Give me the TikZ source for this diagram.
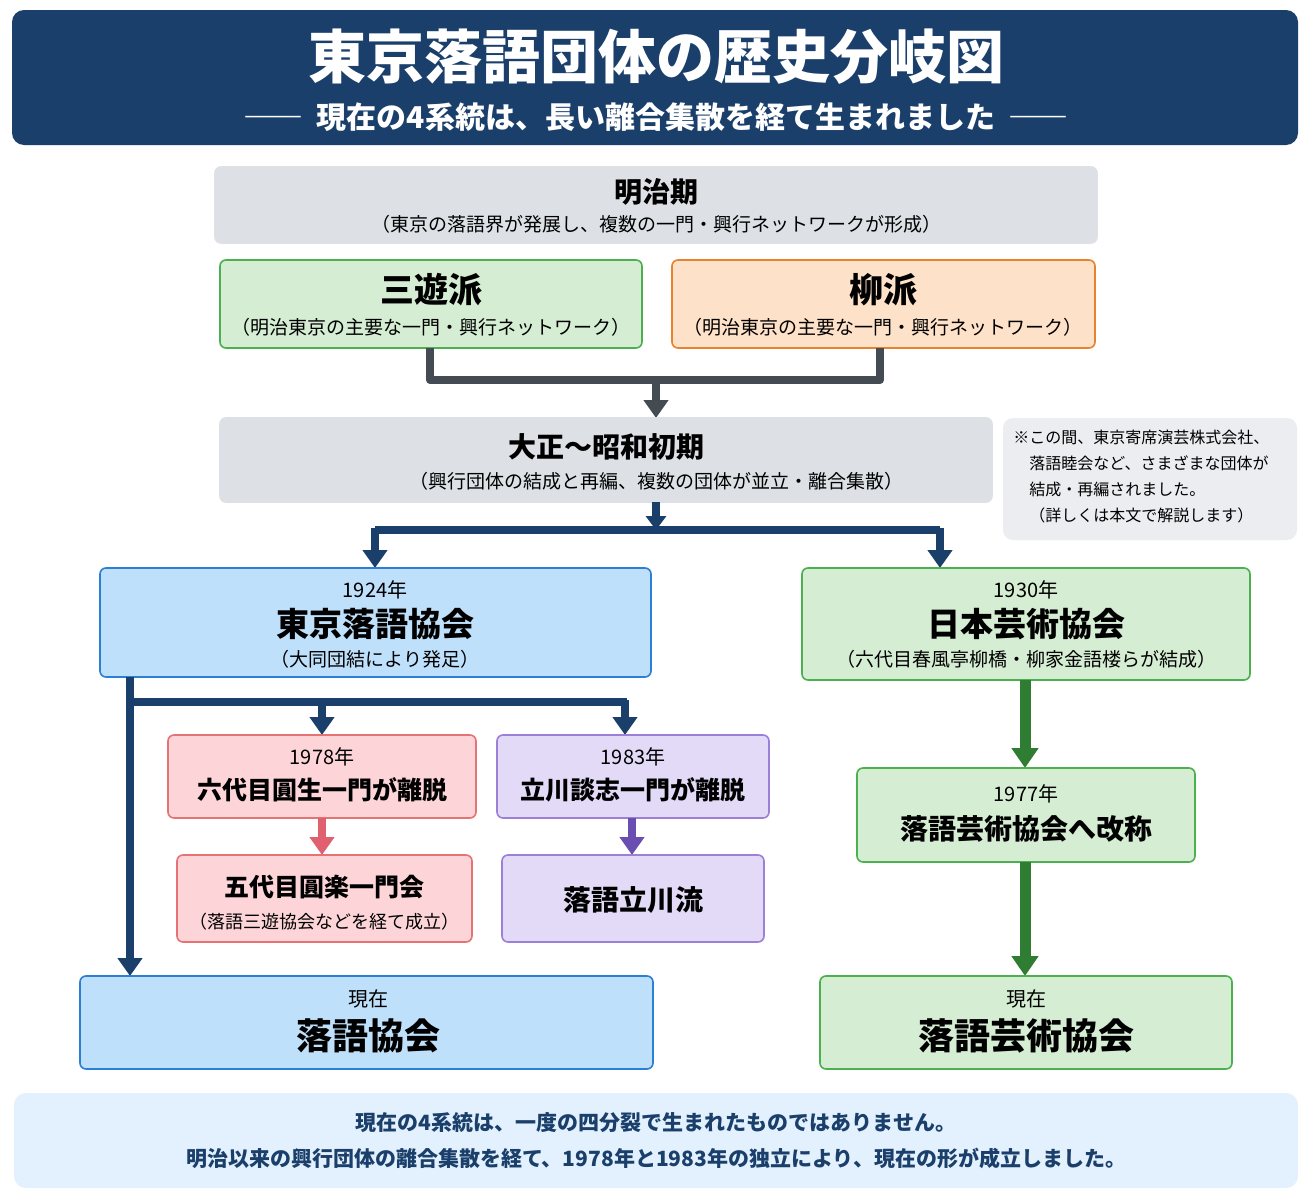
\documentclass[tikz,border=0pt]{standalone}
\usepackage{fontspec}
\setmainfont{Noto Sans CJK JP}
\usetikzlibrary{arrows.meta}
\definecolor{navy}{HTML}{1B3F6B}
\definecolor{gbox}{HTML}{DDE1E6}
\definecolor{grn}{HTML}{D5EDD3}\definecolor{grnb}{HTML}{4CAF50}
\definecolor{org}{HTML}{FDE1C8}\definecolor{orgb}{HTML}{E8822C}
\definecolor{blu}{HTML}{BFE0FB}\definecolor{blub}{HTML}{2B7FD4}
\definecolor{pnk}{HTML}{FDD5D8}\definecolor{pnkb}{HTML}{E57373}
\definecolor{pur}{HTML}{E3DAF7}\definecolor{purb}{HTML}{9C7FD6}
\definecolor{purd}{HTML}{6A4FB0}\definecolor{pnkd}{HTML}{E06070}
\definecolor{dgr}{HTML}{2E7D32}\definecolor{darkg}{HTML}{454B52}
\begin{document}
\begin{tikzpicture}[x=0.5pt,y=-0.5pt,
 box/.style={rounded corners=3pt,line width=0.8pt},
 t/.style={align=center,inner sep=0pt},
 arr/.style={line width=4pt,-{Triangle[length=9pt,width=12pt]}},
 ln/.style={line width=4pt}]
\useasboundingbox (0,0) rectangle (1312,1199);
\fill[white] (0,0) rectangle (1312,1199);
% title
\fill[navy,rounded corners=6pt] (12,10) rectangle (1298,145);
\node[t,white,font=\bfseries\fontsize{29}{32}\selectfont] (title) at (656,57) {東京落語団体の歴史分岐図};
\node[t,white,font=\bfseries\fontsize{15}{18}\selectfont] (sub) at (656,117) {―― \ 現在の4系統は、長い離合集散を経て生まれました \ ――};
% meiji
\filldraw[box,fill=gbox,draw=gbox] (215,167) rectangle (1097,243);
\node[t,font=\bfseries\fontsize{14}{16}\selectfont] (meiji) at (656,192) {明治期};
\node[t,font=\fontsize{9.5}{11}\selectfont] at (656,224) {（東京の落語界が発展し、複数の一門・興行ネットワークが形成）};
% sanyu / yanagi
\filldraw[box,fill=grn,draw=grnb] (220,260) rectangle (642,348);
\node[t,font=\bfseries\fontsize{17}{19}\selectfont] (sanyu) at (431,290) {三遊派};
\node[t,font=\fontsize{9.5}{11}\selectfont] at (431,327) {（明治東京の主要な一門・興行ネットワーク）};
\filldraw[box,fill=org,draw=orgb] (672,260) rectangle (1095,348);
\node[t,font=\bfseries\fontsize{17}{19}\selectfont] (yanagi) at (883,290) {柳派};
\node[t,font=\fontsize{9.5}{11}\selectfont] at (883,327) {（明治東京の主要な一門・興行ネットワーク）};
\coordinate (ja) at (430,348); \coordinate (jb) at (880,348);
\draw[ln,darkg,line join=round] (ja) -- (430,380) -- (880,380) -- (jb);
\draw[arr,darkg] (656,380) -- (656,418);
% taisho
\filldraw[box,fill=gbox,draw=gbox] (220,418) rectangle (992,502);
\node[t,font=\bfseries\fontsize{14}{16}\selectfont] (taisho) at (606,447) {大正～昭和初期};
\node[t,font=\fontsize{9.5}{11}\selectfont] at (656,481) {（興行団体の結成と再編、複数の団体が並立・離合集散）};
\fill[gbox!60,rounded corners=5pt] (1003,418) rectangle (1297,540);
\node[t,align=left,anchor=north west,font=\fontsize{8}{13}\selectfont] (note) at (1013,430) {※この間、東京寄席演芸株式会社、\\\quad 落語睦会など、さまざまな団体が\\\quad 結成・再編されました。\\\quad（詳しくは本文で解説します）};
\draw[navy,line width=4pt,-{Triangle[length=7pt,width=10pt]}] (656,502) -- (656,530);
\draw[ln,navy] (375,530) -- (940,530);
\draw[arr,navy] (375,528) -- (375,568);
\draw[arr,navy] (940,528) -- (940,568);
% kyokai 1924
\filldraw[box,fill=blu,draw=blub] (100,568) rectangle (651,677);
\node[t,font=\fontsize{10}{12}\selectfont] at (375,590) {1924年};
\node[t,font=\bfseries\fontsize{16.5}{19}\selectfont] (tk) at (375,624) {東京落語協会};
\node[t,font=\fontsize{9.5}{11}\selectfont] at (375,659) {（大同団結により発足）};
\filldraw[box,fill=grn,draw=grnb] (802,568) rectangle (1250,680);
\node[t,font=\fontsize{10}{12}\selectfont] at (1026,590) {1930年};
\node[t,font=\bfseries\fontsize{16.5}{19}\selectfont] (ng) at (1026,624) {日本芸術協会};
\node[t,font=\fontsize{9.5}{11}\selectfont] at (1026,659) {（六代目春風亭柳橋・柳家金語楼らが結成）};
% left branches
\draw[arr,navy] (130,677) -- (130,976);
\draw[ln,navy] (128,702) -- (627,702);
\draw[arr,navy] (322,700) -- (322,735);
\draw[arr,navy] (625,700) -- (625,735);
\filldraw[box,fill=pnk,draw=pnkb] (168,735) rectangle (476,818);
\node[t,font=\fontsize{10}{12}\selectfont] at (322,757) {1978年};
\node[t,font=\bfseries\fontsize{12.5}{15}\selectfont] (en) at (322,790) {六代目圓生一門が離脱};
\filldraw[box,fill=pur,draw=purb] (497,735) rectangle (769,818);
\node[t,font=\fontsize{10}{12}\selectfont] at (633,757) {1983年};
\node[t,font=\bfseries\fontsize{12.5}{15}\selectfont] (ta) at (633,790) {立川談志一門が離脱};
\draw[arr,pnkd] (322,818) -- (322,855);
\draw[arr,purd] (632,818) -- (632,855);
\filldraw[box,fill=pnk,draw=pnkb] (177,855) rectangle (472,942);
\node[t,font=\bfseries\fontsize{12.5}{15}\selectfont] (gd) at (324,887) {五代目圓楽一門会};
\node[t,font=\fontsize{9}{11}\selectfont] at (324,922) {（落語三遊協会などを経て成立）};
\filldraw[box,fill=pur,draw=purb] (502,855) rectangle (764,942);
\node[t,font=\bfseries\fontsize{14}{16}\selectfont] (tr) at (633,900) {落語立川流};
% right
\draw[dgr,line width=5.5pt,-{Triangle[length=10pt,width=13pt]}] (1025,680) -- (1025,768);
\filldraw[box,fill=grn,draw=grnb] (857,768) rectangle (1195,862);
\node[t,font=\fontsize{10}{12}\selectfont] at (1026,794) {1977年};
\node[t,font=\bfseries\fontsize{14}{16}\selectfont] (rg) at (1026,829) {落語芸術協会へ改称};
\draw[dgr,line width=5.5pt,-{Triangle[length=10pt,width=13pt]}] (1025,862) -- (1025,976);
% present
\filldraw[box,fill=blu,draw=blub] (80,976) rectangle (653,1069);
\node[t,font=\fontsize{10}{12}\selectfont] at (368,999) {現在};
\node[t,font=\bfseries\fontsize{18}{21}\selectfont] (rk) at (368,1036) {落語協会};
\filldraw[box,fill=grn,draw=grnb] (820,976) rectangle (1232,1069);
\node[t,font=\fontsize{10}{12}\selectfont] at (1026,999) {現在};
\node[t,font=\bfseries\fontsize{18}{21}\selectfont] (rgk) at (1026,1036) {落語芸術協会};
% bottom
\fill[blu!45,rounded corners=6pt] (14,1093) rectangle (1298,1188);
\node[t,navy,font=\bfseries\fontsize{10.5}{18}\selectfont] (foot) at (656,1141) {現在の4系統は、一度の四分裂で生まれたものではありません。\\明治以来の興行団体の離合集散を経て、1978年と1983年の独立により、現在の形が成立しました。};
\end{tikzpicture}
\end{document}
